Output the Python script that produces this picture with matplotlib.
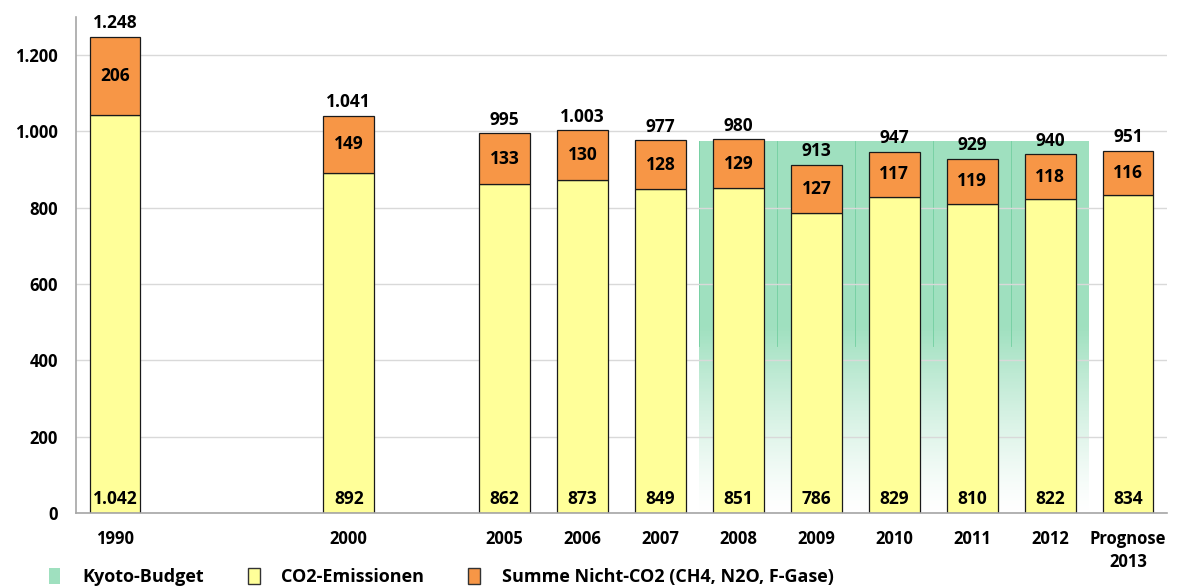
import numpy as np
import matplotlib
matplotlib.use("Agg")
import matplotlib.pyplot as plt
from matplotlib.patches import Patch

plt.rcParams['font.family'] = ['Open Sans', 'DejaVu Sans']
plt.rcParams['font.weight'] = 'bold'

# slots on the x axis, empty strings are gaps between years
labels = ["1990", "", "", "2000", "", "2005", "2006", "2007", "2008",
          "2009", "2010", "2011", "2012", "Prognose\n2013"]
nan = np.nan
co2 = [1042, nan, nan, 892, nan, 862, 873, 849, 851, 786, 829, 810, 822, 834]
non_co2 = [206, nan, nan, 149, nan, 133, 130, 128, 129, 127, 117, 119, 118, 116]
totals = [1248, nan, nan, 1041, nan, 995, 1003, 977, 980, 913, 947, 929, 940, 951]
kyoto = [nan, nan, nan, nan, nan, nan, nan, nan, 974, 974, 974, 974, 974, nan]

YELLOW = '#FFFF99'
ORANGE = '#F79646'
GREEN = '#9FE0BF'


def fmt(v):
    return f"{int(round(v)):,}".replace(",", ".")


fig = plt.figure(figsize=(11.97, 5.88), dpi=100)
ax = fig.add_axes([0.0635, 0.1276, 0.9115, 0.8435])

x = np.arange(len(labels))
co2_a = np.array(co2, dtype=float)
non_a = np.array(non_co2, dtype=float)

# Kyoto budget as full-width bars with a vertical gradient
kb = ax.bar(x, kyoto, width=1.0, facecolor='none', edgecolor='none', zorder=0.2)
grad = np.ones((256, 1, 4))
base = np.array(matplotlib.colors.to_rgb(GREEN))
t = np.linspace(1, 0, 256)  # top -> bottom
alpha = np.clip(t / 0.5, 0, 1) ** 1.3
grad[:, 0, :3] = base
grad[:, 0, 3] = alpha
for p in kb:
    if np.isnan(p.get_height()):
        continue
    x0, y0 = p.get_x(), p.get_y()
    w, h = p.get_width(), p.get_height()
    im = ax.imshow(grad, extent=[x0, x0 + w, y0, y0 + h], aspect='auto',
                   zorder=0.2, interpolation='nearest')
    im.set_clip_path(p)
    ax.plot([x0, x0], [y0 + 0.45 * h, y0 + h], color='#72CFA0', lw=0.6, zorder=0.3)

bw = 0.65
b1 = ax.bar(x, co2_a, width=bw, color=YELLOW, edgecolor='#1a1a1a', lw=0.9, zorder=2)
b2 = ax.bar(x, non_a, bottom=co2_a, width=bw, color=ORANGE, edgecolor='#1a1a1a',
            lw=0.9, zorder=2)

for i in range(len(labels)):
    if np.isnan(co2_a[i]):
        continue
    ax.text(x[i], 12, fmt(co2_a[i]), ha='center', va='bottom', fontsize=12.5,
            fontweight='bold', zorder=3)
    ax.text(x[i], co2_a[i] + non_a[i] / 2, fmt(non_a[i]), ha='center', va='center',
            fontsize=12.5, fontweight='bold', zorder=3)
    ax.text(x[i], co2_a[i] + non_a[i] + 12, fmt(totals[i]), ha='center',
            va='bottom', fontsize=12.5, fontweight='bold', zorder=3)

ax.set_xlim(-0.5, len(labels) - 0.5)
ax.set_ylim(0, 1300)
ax.set_yticks(np.arange(0, 1201, 200))
ax.set_yticklabels([fmt(v) for v in np.arange(0, 1201, 200)], fontsize=12,
                   fontweight='bold')
ax.set_xticks(x)
ax.set_xticklabels(labels, fontsize=12, fontweight='bold', linespacing=1.35)
ax.tick_params(axis='both', length=0)
ax.tick_params(axis='y', pad=13)
ax.tick_params(axis='x', pad=12)

ax.set_axisbelow(True)
ax.yaxis.grid(True, color='#D9D9D9', lw=1.0)
for s in ['top', 'right']:
    ax.spines[s].set_visible(False)
for s in ['left', 'bottom']:
    ax.spines[s].set_color('#A6A6A6')
    ax.spines[s].set_linewidth(1.2)

handles = [
    Patch(facecolor=GREEN, edgecolor='none', label='Kyoto-Budget'),
    Patch(facecolor=YELLOW, edgecolor='#333333', label='CO2-Emissionen'),
    Patch(facecolor=ORANGE, edgecolor='#333333', label='Summe Nicht-CO2 (CH4, N2O, F-Gase)'),
]
fig.legend(handles=handles, loc='center left', bbox_to_anchor=(0.027, 0.019),
           ncol=3, frameon=False, handlelength=0.65, handleheight=1.0,
           handletextpad=1.2, columnspacing=2.45,
           prop={'size': 13, 'weight': 'bold'})

fig.savefig('out.png', dpi=100)
